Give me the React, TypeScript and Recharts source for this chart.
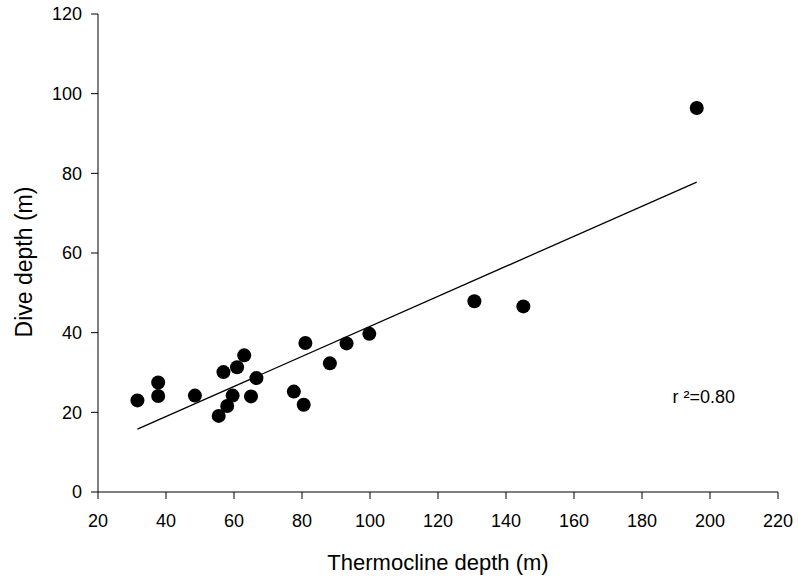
import { ScatterChart, Scatter, XAxis, YAxis, ReferenceDot } from 'recharts';

// thermocline depth (m) vs dive depth (m)
const thermocline = [31.6, 37.7, 37.7, 48.5, 55.5, 56.9, 58.0, 59.6, 60.9, 63.0, 65.0, 66.6, 77.6, 80.5, 81.0, 88.2, 93.1, 99.8, 130.7, 145.1, 196.1];
const dive = [23.0, 27.5, 24.1, 24.2, 19.1, 30.1, 21.6, 24.2, 31.3, 34.3, 24.0, 28.6, 25.2, 21.9, 37.4, 32.3, 37.3, 39.7, 47.9, 46.6, 96.4];

// regression line end points
const fitX = [31.6, 196.1];
const fitY = [15.8, 77.8];

const xTicks = [20, 40, 60, 80, 100, 120, 140, 160, 180, 200, 220];
const yTicks = [0, 20, 40, 60, 80, 100, 120];

const points = thermocline.map((x, i) => ({ x, y: dive[i] }));
const fit = fitX.map((x, i) => ({ x, y: fitY[i] }));

const font = 'Liberation Sans, Arial, sans-serif';
const tickStyle = { fill: '#000', fontSize: 18, fontFamily: font };

// rotated y title, centred a little below the middle like the original
const YTitle = ({ viewBox }: any) => {
  const cx = viewBox.x + 23.5;
  const cy = viewBox.y + viewBox.height / 2 + 9;
  return (
    <text x={cx} y={cy} transform={`rotate(-90 ${cx} ${cy})`} textAnchor="middle" dominantBaseline="central" fill="#000" fontSize={23} fontFamily={font}>
      Dive depth (m)
    </text>
  );
};

export default function App() {
  return (
    <>
      <style>{'body{margin:0}'}</style>
      <ScatterChart width={799} height={577} margin={{ top: 14, right: 21, bottom: 0, left: 0 }}>
        <XAxis
          type="number"
          dataKey="x"
          domain={[20, 220]}
          ticks={xTicks}
          height={85}
          stroke="#000"
          tickSize={7}
          tickMargin={15}
          tick={tickStyle}
          label={{ value: 'Thermocline depth (m)', position: 'insideBottom', offset: 7, fill: '#000', fontSize: 22, fontFamily: font }}
        />
        <YAxis
          type="number"
          dataKey="y"
          domain={[0, 120]}
          ticks={yTicks}
          width={98}
          stroke="#000"
          tickSize={7}
          tickMargin={9}
          tick={tickStyle}
          label={{ content: YTitle }}
        />
        <Scatter data={fit} line={{ stroke: '#000', strokeWidth: 1.3 }} shape={() => <g />} isAnimationActive={false} />
        <Scatter data={points} fill="#000" shape={(p: any) => <circle cx={p.cx} cy={p.cy} r={7} fill="#000" />} isAnimationActive={false} />
        <ReferenceDot
          x={198.2}
          y={24}
          r={0}
          stroke="none"
          label={{ value: 'r ²=0.80', position: 'center', fill: '#000', fontSize: 18, fontFamily: font }}
        />
      </ScatterChart>
    </>
  );
}
